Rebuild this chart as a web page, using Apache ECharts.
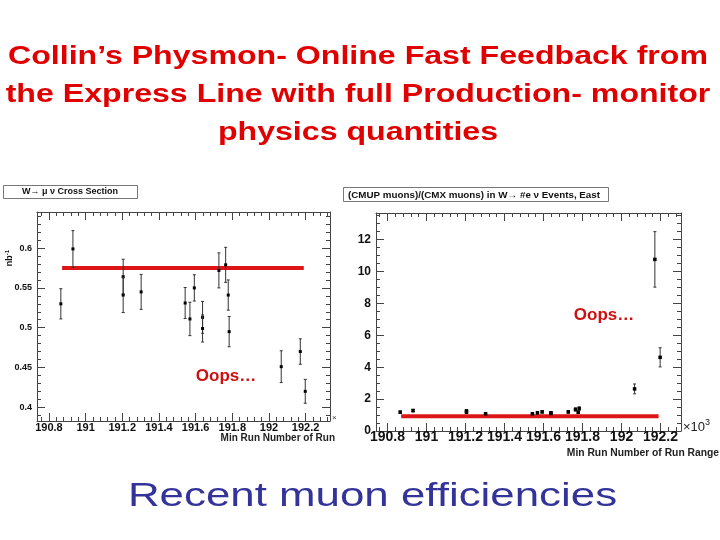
<!DOCTYPE html>
<html>
<head>
<meta charset="utf-8">
<script src="https://cdn.jsdelivr.net/npm/echarts@6/dist/echarts.min.js"></script>
<style>html,body{margin:0;padding:0;background:#fff;}#c{width:720px;height:540px;}</style>
</head>
<body>
<div id="c"></div>
<script>
// ---- data ----
var titleLines = ["Collin\u2019s Physmon- Online Fast Feedback from", "the Express Line with full Production- monitor", "physics quantities"];
var subtitle = "Recent muon efficiencies";

var leftX = [190.865, 190.931, 191.205, 191.205, 191.303, 191.543, 191.569, 191.593, 191.638, 191.638, 191.727, 191.764, 191.778, 191.783, 192.067, 192.171, 192.198];
var leftY = [0.530, 0.599, 0.564, 0.541, 0.545, 0.531, 0.511, 0.550, 0.513, 0.499, 0.572, 0.579, 0.541, 0.495, 0.451, 0.470, 0.420];
var leftErr = [0.019, 0.023, 0.022, 0.022, 0.022, 0.0195, 0.021, 0.0165, 0.020, 0.017, 0.022, 0.022, 0.019, 0.019, 0.020, 0.016, 0.015];
var leftFit = 0.575;
var leftFitRange = [190.872, 192.19];

var rightX = [190.865, 190.931, 191.205, 191.205, 191.303, 191.543, 191.569, 191.593, 191.638, 191.638, 191.727, 191.764, 191.778, 191.783, 192.067, 192.171, 192.198];
var rightY = [1.18, 1.28, 1.18, 1.26, 1.08, 1.08, 1.14, 1.20, 1.10, 1.14, 1.20, 1.35, 1.18, 1.41, 2.64, 10.76, 4.62];
var rightErr = [0.08, 0.08, 0.08, 0.08, 0.06, 0.06, 0.08, 0.08, 0.06, 0.06, 0.08, 0.1, 0.08, 0.1, 0.31, 1.74, 0.60];
var rightFit = 0.93;
var rightFitRange = [190.87, 192.19];

var xTicks = [190.8, 191, 191.2, 191.4, 191.6, 191.8, 192, 192.2];
var leftYTicks = [0.4, 0.45, 0.5, 0.55, 0.6];
var rightYTicks = [0, 2, 4, 6, 8, 10, 12];

var leftTitle = "W\u2192 \u03bc \u03bd Cross Section";
var rightTitle = "(CMUP muons)/(CMX muons) in W\u2192 #e \u03bd Events, East";
var leftXName = "Min Run Number of Run";
var rightXName = "Min Run Number of Run Range";
var oops = "Oops\u2026";

// ---- helpers ----
function subdivide(majors, n, min, max) {
  var step = (majors[1] - majors[0]) / n, out = [];
  var start = majors[0];
  while (start - step >= min) start -= step;
  for (var v = start; v <= max + 1e-9; v += step) out.push(+v.toFixed(6));
  return out;
}
var FONT = "Liberation Sans";
var axisColor = "#444";

function makeAxes(grid, min, max, majors, minorN, isX, labelSize, majLen, margin) {
  var minors = subdivide(majors, minorN, min, max);
  var pos = isX ? ["bottom", "top"] : ["left", "right"];
  var axes = [];
  pos.forEach(function (p, k) {
    axes.push({
      type: "value", gridIndex: grid, min: min, max: max, position: p,
      axisLine: { show: true, onZero: false, lineStyle: { color: axisColor, width: 1 } },
      axisTick: { show: true, inside: true, length: majLen, customValues: majors, lineStyle: { color: axisColor } },
      axisLabel: k === 0 ? { show: true, customValues: majors, fontFamily: FONT, fontWeight: "bold", fontSize: labelSize, color: "#111", margin: margin } : { show: false },
      splitLine: { show: false }
    });
    axes.push({
      type: "value", gridIndex: grid, min: min, max: max, position: p,
      axisLine: { show: false, onZero: false },
      axisTick: { show: true, inside: true, length: Math.round(majLen / 2), customValues: minors, lineStyle: { color: axisColor } },
      axisLabel: { show: false },
      splitLine: { show: false }
    });
  });
  return axes;
}

var xAxes = [].concat(
  makeAxes(0, 190.735, 192.333, xTicks, 5, true, 11, 8, 1),
  makeAxes(1, 190.741, 192.305, xTicks, 5, true, 14, 8, -1)
);
var yAxes = [].concat(
  makeAxes(0, 0.3827, 0.6454, leftYTicks, 5, false, 9, 8, 5),
  makeAxes(1, 0, 13.67, rightYTicks, 4, false, 12, 8, 5)
);

function pts(xs, ys, es) { return xs.map(function (x, i) { return [x, ys[i], es[i]]; }); }

function errRender(sz) {
  return function (params, api) {
    var x = api.value(0), y = api.value(1), e = api.value(2);
    var c = api.coord([x, y]), lo = api.coord([x, y - e]), hi = api.coord([x, y + e]);
    var st = { stroke: "#333", lineWidth: 1 };
    return {
      type: "group",
      children: [
        { type: "line", shape: { x1: c[0], y1: lo[1], x2: c[0], y2: hi[1] }, style: st },
        { type: "line", shape: { x1: c[0] - 1.5, y1: lo[1], x2: c[0] + 1.5, y2: lo[1] }, style: st },
        { type: "line", shape: { x1: c[0] - 1.5, y1: hi[1], x2: c[0] + 1.5, y2: hi[1] }, style: st },
        { type: "rect", shape: { x: c[0] - sz / 2, y: c[1] - sz / 2, width: sz, height: sz }, style: { fill: "#000" } }
      ]
    };
  };
}

var option = {
  animation: false,
  backgroundColor: "#fff",
  grid: [
    { left: 37, top: 212, width: 293, height: 209 },
    { left: 376, top: 213, width: 305, height: 218 }
  ],
  xAxis: xAxes,
  yAxis: yAxes,
  series: [
    { type: "line", xAxisIndex: 0, yAxisIndex: 0, data: [[leftFitRange[0], leftFit], [leftFitRange[1], leftFit]], symbol: "none", lineStyle: { color: "#dd1515", width: 4 }, z: 3 },
    { type: "custom", xAxisIndex: 0, yAxisIndex: 0, data: pts(leftX, leftY, leftErr), renderItem: errRender(3), z: 4 },
    { type: "line", xAxisIndex: 4, yAxisIndex: 4, data: [[rightFitRange[0], rightFit], [rightFitRange[1], rightFit]], symbol: "none", lineStyle: { color: "#dd1515", width: 4 }, z: 3 },
    { type: "custom", xAxisIndex: 4, yAxisIndex: 4, data: pts(rightX, rightY, rightErr), renderItem: errRender(3.5), z: 4 }
  ],
  graphic: [
    { type: "text", x: 358, y: 38, scaleX: 1.235, style: { text: titleLines.join("\n"), fontFamily: FONT, fontWeight: "bold", fontSize: 26, lineHeight: 38, fill: "#e00000", align: "center" } },
    { type: "text", x: 372.5, y: 497, scaleX: 1.29, style: { text: subtitle, fontFamily: FONT, fontSize: 34, fill: "#333399", align: "center", verticalAlign: "middle" } },
    { type: "rect", shape: { x: 3.5, y: 185.5, width: 134, height: 13 }, style: { fill: "#fff", stroke: "#777", lineWidth: 1 } },
    { type: "text", x: 70, y: 192, style: { text: leftTitle, fontFamily: FONT, fontWeight: "bold", fontSize: 9, fill: "#111", align: "center", verticalAlign: "middle" } },
    { type: "rect", shape: { x: 343.5, y: 187.5, width: 265, height: 14 }, style: { fill: "#fff", stroke: "#777", lineWidth: 1 } },
    { type: "text", x: 474, y: 195, style: { text: rightTitle, fontFamily: FONT, fontWeight: "bold", fontSize: 9.8, fill: "#111", align: "center", verticalAlign: "middle" } },
    { type: "text", x: 335, y: 438, style: { text: leftXName, fontFamily: FONT, fontWeight: "bold", fontSize: 10, fill: "#222", align: "right", verticalAlign: "middle" } },
    { type: "text", x: 719, y: 453, style: { text: rightXName, fontFamily: FONT, fontWeight: "bold", fontSize: 10.3, fill: "#222", align: "right", verticalAlign: "middle" } },
    { type: "text", x: 10, y: 258, rotation: Math.PI / 2, style: { text: "{a|nb}{s|-1}", rich: { a: { fontFamily: FONT, fontWeight: "bold", fontSize: 9, fill: "#111" }, s: { fontFamily: FONT, fontWeight: "bold", fontSize: 6, fill: "#111", verticalAlign: "top", padding: [0, 0, 6, 0] } }, align: "center", verticalAlign: "middle" } },
    { type: "text", x: 332, y: 418, style: { text: "\u00d7", fontFamily: FONT, fontSize: 8, fill: "#333", verticalAlign: "middle" } },
    { type: "text", x: 683, y: 427, style: { text: "{a|\u00d710}{s|3}", rich: { a: { fontFamily: FONT, fontSize: 13, fill: "#222" }, s: { fontFamily: FONT, fontSize: 9, fill: "#222", padding: [0, 0, 8, 0] } }, verticalAlign: "middle" } },
    { type: "text", x: 226, y: 376, style: { text: oops, fontFamily: FONT, fontWeight: "bold", fontSize: 17, fill: "#cc1111", align: "center", verticalAlign: "middle" } },
    { type: "text", x: 604, y: 315, style: { text: oops, fontFamily: FONT, fontWeight: "bold", fontSize: 17, fill: "#cc1111", align: "center", verticalAlign: "middle" } }
  ]
};
var chart = echarts.init(document.getElementById("c"), null, { renderer: "canvas" });
chart.setOption(option);
</script>
</body>
</html>
